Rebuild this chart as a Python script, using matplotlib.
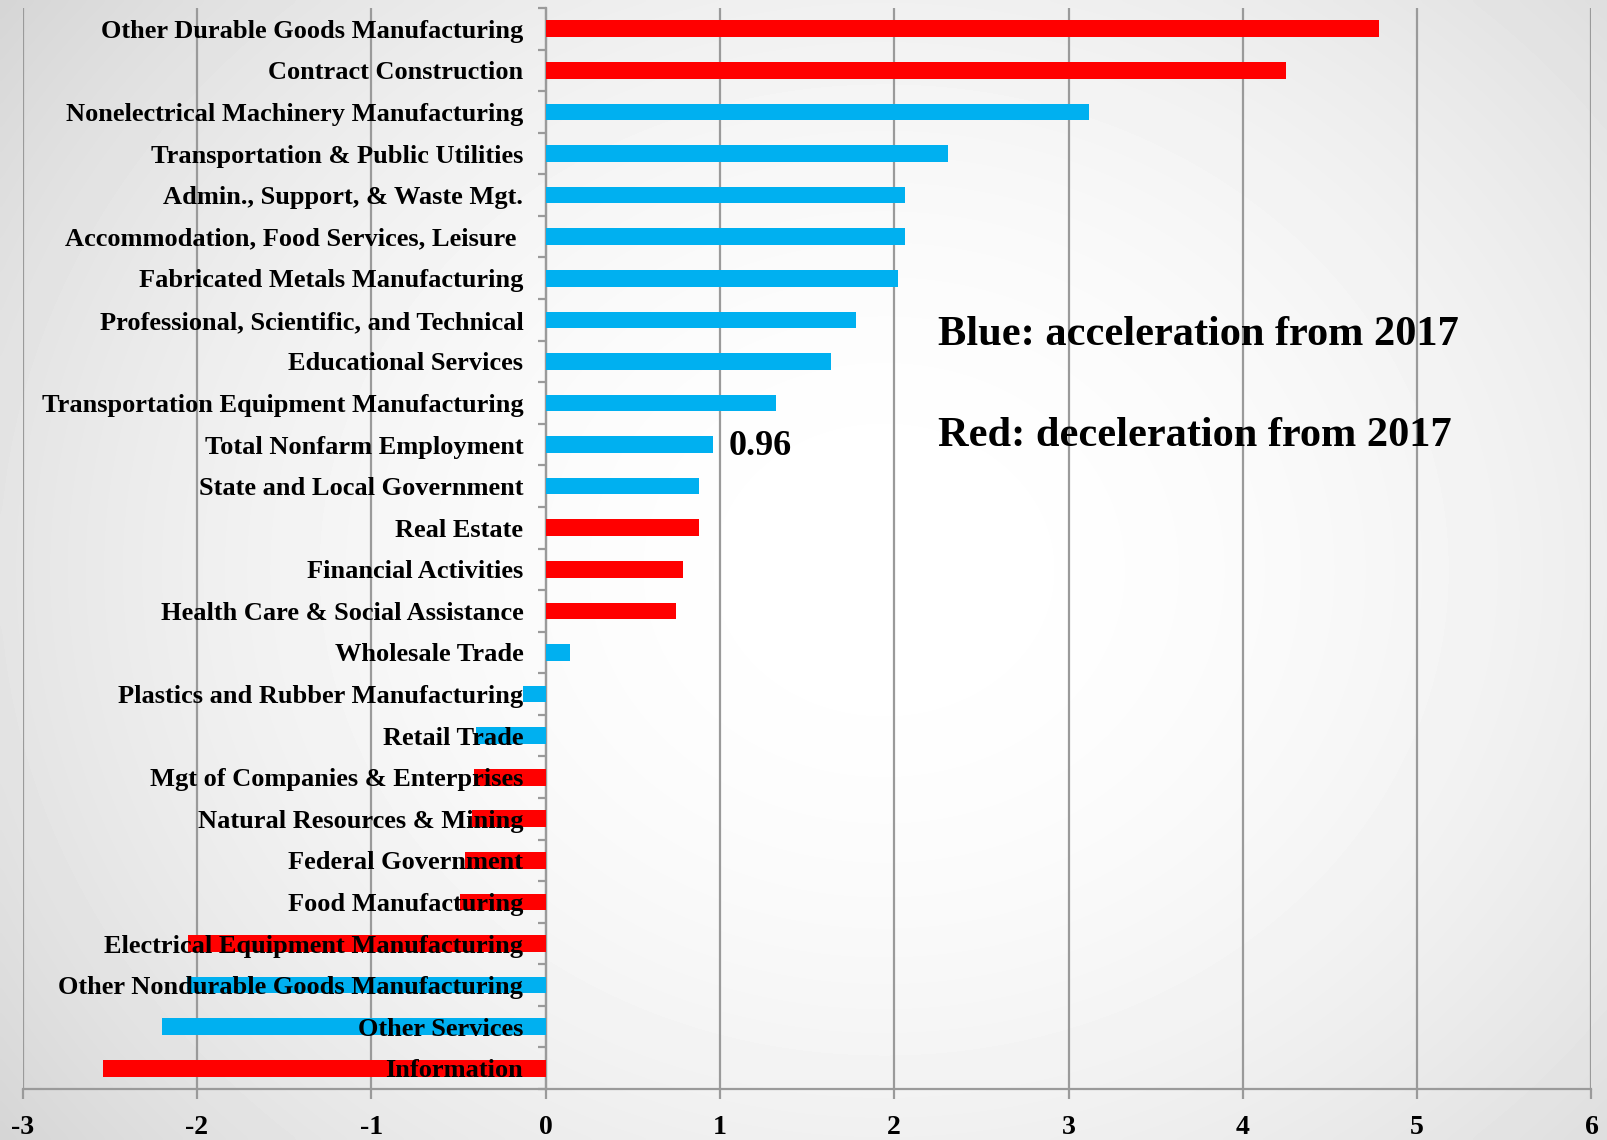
import matplotlib
matplotlib.use("Agg")
import matplotlib.pyplot as plt
import numpy as np

categories = [
    "Other Durable Goods Manufacturing",
    "Contract Construction",
    "Nonelectrical Machinery Manufacturing",
    "Transportation & Public Utilities",
    "Admin., Support, & Waste Mgt.",
    "Accommodation, Food Services, Leisure ",
    "Fabricated Metals Manufacturing",
    "Professional, Scientific, and Technical",
    "Educational Services",
    "Transportation Equipment Manufacturing",
    "Total Nonfarm Employment",
    "State and Local Government",
    "Real Estate",
    "Financial Activities",
    "Health Care & Social Assistance",
    "Wholesale Trade",
    "Plastics and Rubber Manufacturing",
    "Retail Trade",
    "Mgt of Companies & Enterprises",
    "Natural Resources & Mining",
    "Federal Government",
    "Food Manufacturing",
    "Electrical Equipment Manufacturing",
    "Other Nondurable Goods Manufacturing",
    "Other Services",
    "Information",
]
values = [4.78, 4.25, 3.12, 2.31, 2.06, 2.06, 2.02, 1.78, 1.64, 1.32, 0.96,
          0.88, 0.88, 0.79, 0.75, 0.14, -0.13, -0.40, -0.41, -0.42, -0.46,
          -0.49, -2.05, -2.06, -2.20, -2.54]
# "b" = acceleration from 2017, "r" = deceleration
trend = ["r", "r", "b", "b", "b", "b", "b", "b", "b", "b", "b", "b", "r", "r",
         "r", "b", "b", "b", "r", "r", "r", "r", "r", "b", "b", "r"]

RED = "#FF0000"
BLUE = "#00B0F0"
GRID = "#9a9a9a"
serif = ["Liberation Serif", "DejaVu Serif"]

fig = plt.figure(figsize=(16.08, 11.4), dpi=100)

# slide-like radial gray gradient behind everything
bg = fig.add_axes([0, 0, 1, 1], zorder=-10)
yy, xx = np.mgrid[0:1:300j, 0:1:420j]
r = np.sqrt(((xx - 0.55) / 0.7) ** 2 + ((yy - 0.5) / 0.85) ** 2)
shade = 1.0 - 0.17 * np.clip(r, 0, 1) ** 2
bg.imshow(shade, cmap="gray", vmin=0, vmax=1, extent=[0, 1, 0, 1],
          aspect="auto", interpolation="bicubic")
bg.axis("off")

ax = fig.add_axes([0.0141, 0.0447, 0.9756, 0.9483])
ax.set_facecolor("none")
ax.set_axisbelow(False)

y = np.arange(len(categories))
colors = [RED if t == "r" else BLUE for t in trend]
ax.barh(y, values, height=0.4, color=colors, zorder=2)

ax.set_xlim(-3, 6)
ax.set_ylim(len(categories) - 0.5, -0.5)
ax.set_xticks(range(-3, 7))
ax.set_xticklabels([str(v) for v in range(-3, 7)])

for v in range(-3, 7):
    ax.axvline(v, color=GRID, lw=1.6, zorder=1)

for s in ["top", "right"]:
    ax.spines[s].set_visible(False)
ax.spines["left"].set_position(("data", 0))
ax.spines["left"].set_color(GRID)
ax.spines["left"].set_linewidth(1.6)
ax.spines["left"].set_zorder(1)
ax.spines["bottom"].set_color(GRID)
ax.spines["bottom"].set_linewidth(1.6)

ax.set_yticks(y)
ax.set_yticklabels(categories)
ax.set_yticks(np.arange(-0.5, len(categories), 1.0), minor=True)
ax.tick_params(axis="y", which="major", length=0, pad=16, labelsize=19)
ax.tick_params(axis="y", which="minor", length=6, width=1.6, color=GRID)
ax.tick_params(axis="x", length=7, width=1.6, color=GRID, pad=12, labelsize=20)
for lab in ax.get_yticklabels() + ax.get_xticklabels():
    lab.set_family(serif)
    lab.set_fontweight("bold")

ax.text(1.05, 10.05, "0.96", family=serif, fontweight="bold", fontsize=26,
        va="center", ha="left")
ax.text(2.25, 7.36, "Blue: acceleration from 2017", family=serif,
        fontweight="bold", fontsize=30.5, va="center", ha="left")
ax.text(2.25, 9.8, "Red: deceleration from 2017", family=serif,
        fontweight="bold", fontsize=30.5, va="center", ha="left")

fig.savefig("out.png", dpi=100)
